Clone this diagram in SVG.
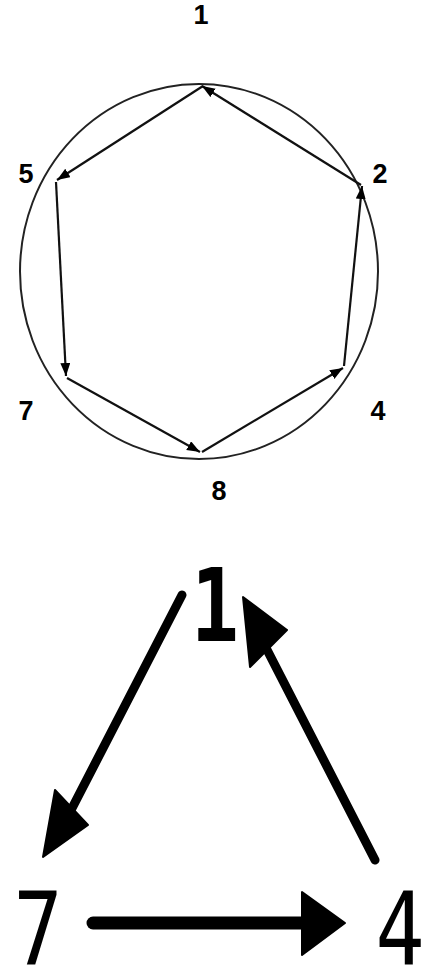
<svg xmlns="http://www.w3.org/2000/svg" width="422" height="973" viewBox="0 0 422 973">
<style>
.sl{font-family:"Liberation Sans",Arial,sans-serif;font-weight:bold;font-size:27px;fill:#000;text-anchor:middle}
.bl{font-family:"DejaVu Sans Mono",monospace;font-size:102px;fill:#000;text-anchor:middle}
.e{stroke:#111;stroke-width:2.2;fill:none;marker-end:url(#ah)}
.be{stroke:#000;fill:none;stroke-linecap:round}
.bh{fill:#000;stroke:#000;stroke-width:2;stroke-linejoin:round}
</style>
<defs>
<marker id="ah" markerUnits="userSpaceOnUse" markerWidth="14" markerHeight="12" refX="13" refY="5" orient="auto">
<path d="M0,0 L13,5 L0,10 z" fill="#000"/>
</marker>
</defs>
<rect width="422" height="973" fill="#fff"/>
<ellipse cx="199" cy="271.5" rx="179" ry="187.5" fill="none" stroke="#222" stroke-width="2"/>
<g id="connectors">
<line class="e" x1="203" y1="86" x2="57" y2="180"/>
<line class="e" x1="56" y1="182" x2="66" y2="376"/>
<line class="e" x1="67" y1="378" x2="200" y2="452"/>
<line class="e" x1="202" y1="452" x2="343" y2="368"/>
<line class="e" x1="344" y1="366" x2="362" y2="186"/>
<line class="e" x1="361" y1="185" x2="202" y2="86"/>
<line class="be" stroke-width="9" x1="182" y1="595" x2="68" y2="816"/>
<polygon class="bh" points="43,857 55,790 88,825"/>
<line class="be" stroke-width="9" x1="375" y1="860" x2="262" y2="640"/>
<polygon class="bh" points="243,597 250,667 287,630"/>
<line class="be" stroke-width="13" x1="93" y1="923" x2="310" y2="923"/>
<polygon class="bh" points="345,923 302,892 302,955"/>
</g>
<g id="n1"><text class="sl" x="201" y="24">1</text></g>
<g id="n5"><text class="sl" x="26" y="183">5</text></g>
<g id="n2"><text class="sl" x="380" y="183">2</text></g>
<g id="n7"><text class="sl" x="26" y="420">7</text></g>
<g id="n4"><text class="sl" x="378" y="420">4</text></g>
<g id="n8"><text class="sl" x="219" y="500">8</text></g>
<g id="b1"><text class="bl" transform="translate(215,641) scale(0.78,1)" font-weight="bold">1</text></g>
<g id="b7"><text class="bl" transform="translate(38,965) scale(0.8,1)">7</text></g>
<g id="b4"><text class="bl" transform="translate(400,965) scale(0.8,1)">4</text></g>
</svg>
